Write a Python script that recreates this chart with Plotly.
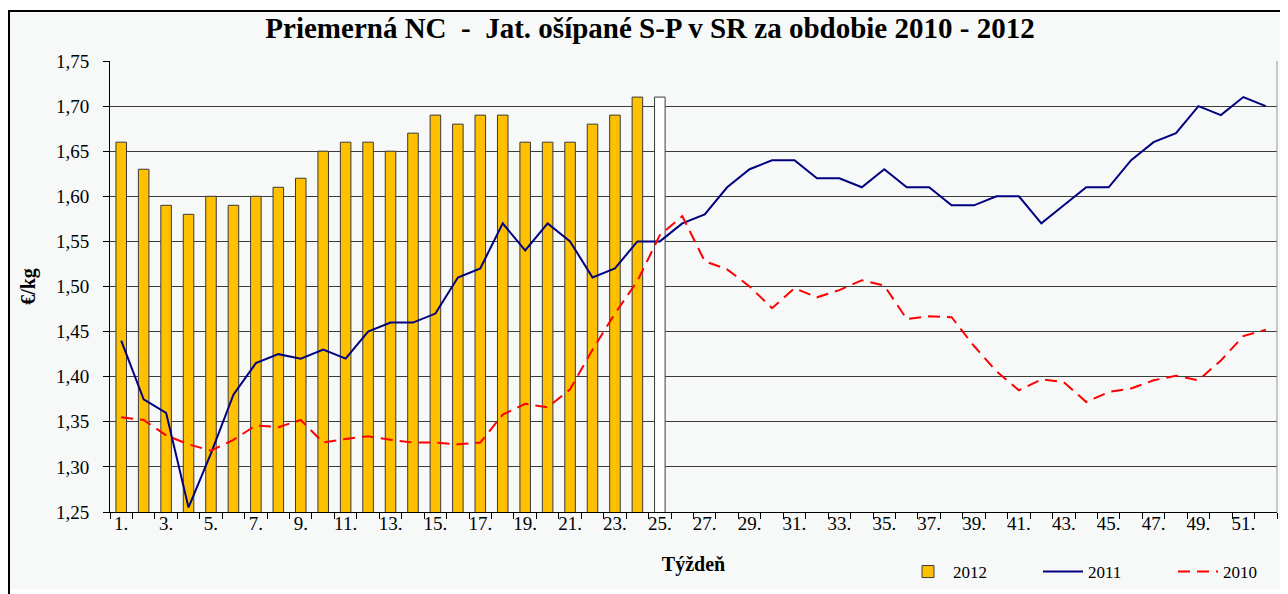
import plotly.graph_objects as go

weeks = list(range(1, 53))
tick_weeks = list(range(1, 53, 2))
tick_labels = ["1.", "3.", "5.", "7.", "9.", "11.", "13.", "15.", "17.", "19.", "21.", "23.", "25.",
               "27.", "29.", "31.", "33.", "35.", "37.", "39.", "41.", "43.", "45.", "47.", "49.", "51."]

weeks_2012 = list(range(1, 25))
price_2012 = [1.66, 1.63, 1.59, 1.58, 1.60, 1.59, 1.60, 1.61, 1.62, 1.65, 1.66, 1.66,
              1.65, 1.67, 1.69, 1.68, 1.69, 1.69, 1.66, 1.66, 1.66, 1.68, 1.69, 1.71]
weeks_2012_open = [25]
price_2012_open = [1.71]

price_2011 = [1.44, 1.375, 1.36, 1.255, 1.315, 1.38, 1.415, 1.425, 1.42, 1.43, 1.42, 1.45,
              1.46, 1.46, 1.47, 1.51, 1.52, 1.57, 1.54, 1.57, 1.55, 1.51, 1.52, 1.55,
              1.55, 1.57, 1.58, 1.61, 1.63, 1.64, 1.64, 1.62, 1.62, 1.61, 1.63, 1.61,
              1.61, 1.59, 1.59, 1.60, 1.60, 1.57, 1.59, 1.61, 1.61, 1.64, 1.66, 1.67,
              1.70, 1.69, 1.71, 1.70]

price_2010 = [1.355, 1.352, 1.335, 1.325, 1.318, 1.33, 1.346, 1.344, 1.352, 1.327, 1.331, 1.334,
              1.330, 1.327, 1.327, 1.325, 1.327, 1.358, 1.370, 1.366, 1.386, 1.430, 1.470, 1.506,
              1.557, 1.578, 1.528, 1.519, 1.500, 1.476, 1.498, 1.488, 1.496, 1.507, 1.501, 1.464,
              1.467, 1.466, 1.434, 1.406, 1.385, 1.397, 1.394, 1.372, 1.383, 1.387, 1.396, 1.401,
              1.396, 1.418, 1.445, 1.452]

# page body has an 8px margin, so the figure starts at (8, 8) on the page
OFF = 8
W, H = 1280, 586
L, R, T, B = 102, 11, 53, 82
pw, ph = W - L - R, H - T - B

fig = go.Figure()
fig.add_trace(go.Bar(x=weeks_2012, y=price_2012, name="2012", width=0.47,
                     marker=dict(color="#FFC000", line=dict(color="#3a3a3a", width=1))))
fig.add_trace(go.Bar(x=weeks_2012_open, y=price_2012_open, name="2012", width=0.47, showlegend=False,
                     marker=dict(color="#FFFFFF", line=dict(color="#3a3a3a", width=1))))
fig.add_trace(go.Scatter(x=weeks, y=price_2011, name="2011", mode="lines",
                         line=dict(color="#000080", width=2)))
fig.add_trace(go.Scatter(x=weeks, y=price_2010, name="2010", mode="lines",
                         line=dict(color="#FF0000", width=2, dash="12px,7px")))

def px_x(p):
    return (p - OFF - L) / pw

def px_y(p):
    return (H - B - (p - OFF)) / ph

fig.add_shape(type="rect", xref="paper", yref="paper",
              x0=px_x(8), x1=px_x(1300), y0=px_y(589), y1=px_y(10),
              line=dict(width=0), fillcolor="#F6F9F8", layer="below")
fig.add_shape(type="line", xref="paper", yref="paper",
              x0=px_x(9), x1=px_x(9), y0=px_y(600), y1=px_y(10),
              line=dict(color="black", width=2), layer="below")
fig.add_shape(type="line", xref="paper", yref="paper",
              x0=px_x(8), x1=px_x(1300), y0=px_y(11), y1=px_y(11),
              line=dict(color="black", width=2), layer="below")
fig.add_shape(type="line", xref="paper", yref="paper", x0=1, x1=1, y0=0, y1=1,
              line=dict(color="#999999", width=1))

fig.update_layout(
    width=W, height=H,
    margin=dict(l=L, r=R, t=T, b=B, autoexpand=False),
    paper_bgcolor="white",
    plot_bgcolor="rgba(0,0,0,0)",
    separators=",.",
    barmode="overlay",
    font=dict(family="Liberation Serif", color="black"),
    title=dict(text="<b>Priemerná NC  -  Jat. ošípané S-P v SR za obdobie 2010 - 2012</b>",
               xref="container", x=(650 - OFF) / W, xanchor="center",
               yref="container", y=1 - (28 - OFF) / H, yanchor="middle",
               font=dict(size=29, family="Liberation Serif")),
    xaxis=dict(range=[0.5, 52.5], tickmode="array", tickvals=tick_weeks, ticktext=tick_labels,
               ticks="", showgrid=False, zeroline=False, showline=True, linecolor="black", linewidth=1,
               tickfont=dict(size=19), ticklabelstandoff=-6,
               minor=dict(tickmode="array", tickvals=[w - 0.5 for w in weeks] + [52.5],
                          ticks="outside", ticklen=6, tickcolor="black", tickwidth=1, showgrid=False),
               title=dict(text="<b>Týždeň</b>", font=dict(size=20), standoff=24)),
    yaxis=dict(range=[1.25, 1.75], dtick=0.05, tick0=1.25, tickformat=".2f",
               ticks="outside", ticklen=6, tickcolor="black", ticklabelstandoff=10,
               showgrid=True, gridcolor="#3c3c3c", gridwidth=1, zeroline=False,
               showline=True, linecolor="black", linewidth=1,
               tickfont=dict(size=19),
               title=dict(text="<b>€/kg</b>", font=dict(size=20), standoff=14)),
    legend=dict(orientation="h", xref="paper", yref="paper",
                x=px_x(903), y=px_y(572), xanchor="left", yanchor="middle",
                bgcolor="rgba(0,0,0,0)", font=dict(size=17, family="Liberation Serif"),
                entrywidth=80, entrywidthmode="pixels", itemwidth=40),
)

fig.write_html("out.html")
